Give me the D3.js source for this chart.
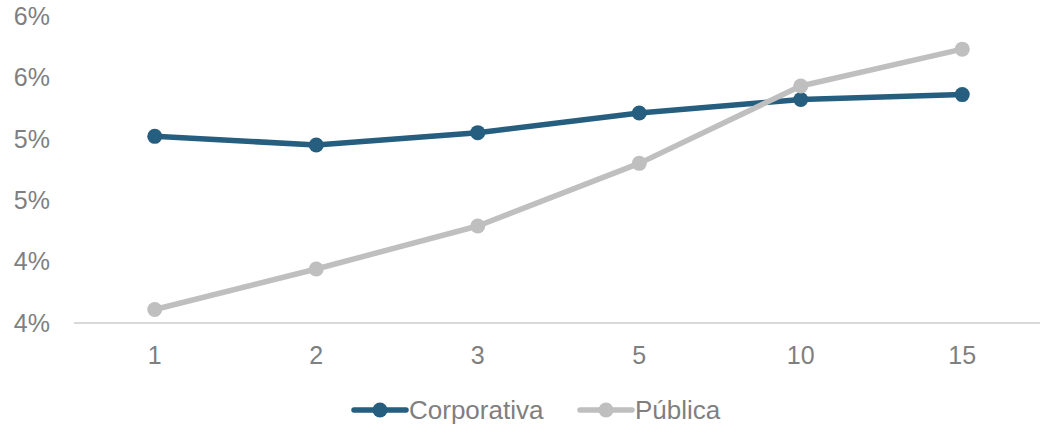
<!DOCTYPE html>
<html>
<head>
<meta charset="utf-8">
<script src="https://cdn.jsdelivr.net/npm/d3@7"></script>
<style>
  body { margin: 0; background: #fff; }
  text { font-family: "Liberation Sans", Arial, sans-serif; fill: #7f7f7f; }
</style>
</head>
<body>
<div id="chart"></div>
<script>
// data
const categories = ["1", "2", "3", "5", "10", "15"];
const corporativa = [5.02, 4.95, 5.05, 5.21, 5.32, 5.36];
const publica = [3.61, 3.94, 4.29, 4.80, 5.43, 5.73];
const yTicks = [3.5, 4.0, 4.5, 5.0, 5.5, 6.0];
const seriesNames = ["Corporativa", "Pública"];
const colors = ["#255e7e", "#bfbfbf"];

const width = 1040, height = 427;
const margin = { top: 16, right: -3, bottom: 104, left: 74 };

const svg = d3.select("#chart").append("svg")
    .attr("width", width)
    .attr("height", height);

const x = d3.scaleBand()
    .domain(categories)
    .range([margin.left, width - margin.right]);

const y = d3.scaleLinear()
    .domain([3.5, 6.0])
    .range([height - margin.bottom, margin.top]);

// x axis line
svg.append("line")
    .attr("x1", margin.left)
    .attr("x2", width)
    .attr("y1", y(3.5))
    .attr("y2", y(3.5))
    .attr("stroke", "#d9d9d9")
    .attr("stroke-width", 2);

// y tick labels (rounded to whole percent, like the source)
svg.append("g")
    .selectAll("text")
    .data(yTicks)
    .enter().append("text")
    .attr("x", 50)
    .attr("y", d => y(d))
    .attr("dy", "0.35em")
    .attr("text-anchor", "end")
    .style("font-size", "25px")
    .text(d => Math.round(d) + "%");

// x tick labels
svg.append("g")
    .selectAll("text")
    .data(categories)
    .enter().append("text")
    .attr("x", d => x(d) + x.bandwidth() / 2)
    .attr("y", 355)
    .attr("dy", "0.35em")
    .attr("text-anchor", "middle")
    .style("font-size", "25px")
    .text(d => d);

const line = d3.line()
    .x((d, i) => x(categories[i]) + x.bandwidth() / 2)
    .y(d => y(d));

[corporativa, publica].forEach((vals, k) => {
    svg.append("path")
        .datum(vals)
        .attr("fill", "none")
        .attr("stroke", colors[k])
        .attr("stroke-width", 5.5)
        .attr("stroke-linejoin", "round")
        .attr("d", line);

    svg.append("g")
        .selectAll("circle")
        .data(vals)
        .enter().append("circle")
        .attr("cx", (d, i) => x(categories[i]) + x.bandwidth() / 2)
        .attr("cy", d => y(d))
        .attr("r", 7.5)
        .attr("fill", colors[k]);
});

// legend
const legendX = [352, 578];
const legend = svg.append("g");
seriesNames.forEach((name, k) => {
    const lx = legendX[k];
    legend.append("line")
        .attr("x1", lx + 2).attr("x2", lx + 54)
        .attr("y1", 410).attr("y2", 410)
        .attr("stroke", colors[k])
        .attr("stroke-width", 5.5)
        .attr("stroke-linecap", "round");
    legend.append("circle")
        .attr("cx", lx + 28).attr("cy", 410)
        .attr("r", 7.5)
        .attr("fill", colors[k]);
    legend.append("text")
        .attr("x", lx + 57)
        .attr("y", 410)
        .attr("dy", "0.35em")
        .style("font-size", "26px")
        .text(name);
});
</script>
</body>
</html>
